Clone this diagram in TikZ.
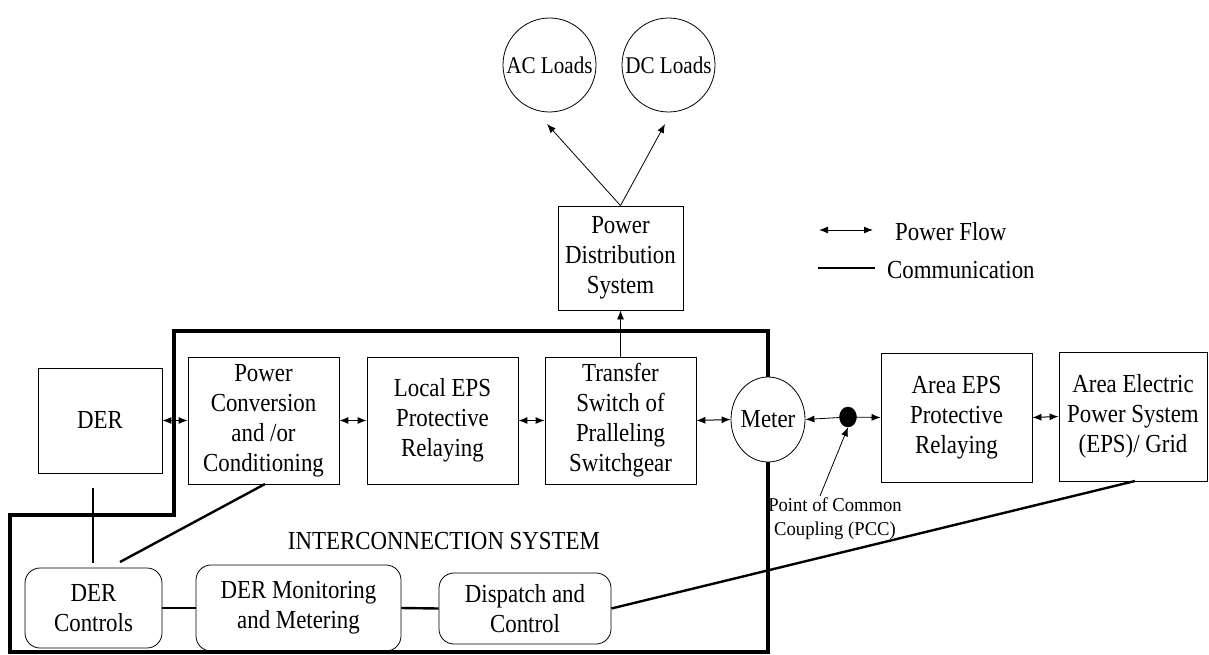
\documentclass[tikz,border=0pt]{standalone}
\usepackage{fontspec}
\setmainfont{Liberation Serif}[FakeStretch=0.88]
\newfontfamily\pccfont{Liberation Serif}[FakeStretch=0.95]
\usetikzlibrary{arrows.meta,shapes.geometric}
\begin{document}
\begin{tikzpicture}[x=1pt,y=-1pt,
  txt/.style={font=\fontsize{26}{30}\selectfont},
  box/.style={draw,line width=0.8pt,inner sep=0pt,align=center,txt},
  rbox/.style={box,rounded corners=15pt},
  load/.style={draw,line width=0.8pt,ellipse,inner sep=0pt,txt},
  pf/.style={{Latex[length=9pt,width=7pt]}-{Latex[length=9pt,width=7pt]},line width=1pt},
  one/.style={-{Latex[length=9pt,width=7pt]},line width=0.8pt},
  comm/.style={line width=2.4pt},
  border/.style={line width=4pt}]
\useasboundingbox (0,0) rectangle (1209,655);
% boxes
\node[box,minimum width=124pt,minimum height=105pt] (der) at (100,420.5) {DER};
\node[box,minimum width=151pt,minimum height=127pt] (pc) at (263.5,420.5) {Power\\Conversion\\and /or\\Conditioning};
\node[box,minimum width=151pt,minimum height=127pt] (leps) at (442.5,420.5) {Local EPS\\Protective\\Relaying};
\node[box,minimum width=151pt,minimum height=127pt] (ts) at (620.5,420.5) {Transfer\\Switch of\\Pralleling\\Switchgear};
\node[load,minimum width=74pt,minimum height=85pt] (meter) at (768,419.5) {\makebox[0pt]{Meter}};
\node[draw,fill=black,ellipse,minimum width=17pt,minimum height=20pt,inner sep=0pt] (pcc) at (848,417) {};
\node[box,minimum width=151pt,minimum height=129pt] (aeps) at (956.5,417.5) {Area EPS\\Protective\\Relaying};
\node[box,minimum width=148pt,minimum height=129pt] (grid) at (1133,416.5) {Area Electric\\Power System\\(EPS)/ Grid};
\node[box,minimum width=125pt,minimum height=104pt] (pds) at (620.5,258) {Power\\Distribution\\System};
\node[load,minimum width=93pt,minimum height=94pt,font=\fontsize{24}{28}\selectfont] (ac) at (549.5,65) {\makebox[0pt]{AC Loads}};
\node[load,minimum width=93pt,minimum height=94pt,font=\fontsize{24}{28}\selectfont] (dc) at (668.5,65) {\makebox[0pt]{DC Loads}};
\node[rbox,minimum width=137pt,minimum height=80pt] (derc) at (93.5,608) {DER\\Controls};
\node[rbox,minimum width=205pt,minimum height=86pt] (dmm) at (298.5,608) {DER Monitoring\\and Metering};
\node[rbox,minimum width=172pt,minimum height=71pt] (dc2) at (525,608.5) {Dispatch and\\Control};
% interconnection border
\draw[border] (meter.north) -- (768,331) -- (174,331) -- (174,515) -- (10,515) -- (10,652) -- (768,652) -- (meter.south);
\node[txt] (ics) at (444,541) {INTERCONNECTION SYSTEM};
% power flow
\draw[pf] (der.east) -- (pc.west);
\draw[pf] (pc.east) -- (leps.west);
\draw[pf] (leps.east) -- (ts.west);
\draw[pf] (ts.east) -- (meter.west);
\draw[one] (pcc) -- (meter.east);
\draw[one] (pcc) -- (aeps.west);
\draw[pf] (aeps.east) -- (grid.west);
\draw[one] (ts.north) -- (pds.south);
\coordinate (pdstop) at (pds.north);
\draw[one] (pdstop) -- (547,124);
\draw[one] (pdstop) -- (665,124);
% PCC label
\node[font=\pccfont\fontsize{19.6}{24}\selectfont,align=center] (pccl) at (835,519) {Point of Common\\Coupling (PCC)};
\coordinate (pccs) at (820,496);
\draw[one] (pccs) -- (pcc.south);
% communication
\coordinate (derb) at (93,488);
\coordinate (derct) at (93,563);
\draw[comm] (derb) -- (derct);
\coordinate (pcb) at (265,484);
\coordinate (dercr) at (120,562);
\draw[comm] (pcb) -- (dercr);
\draw[comm] (derc.east) -- (dmm.west);
\draw[comm] (dmm.east) -- (dc2.west);
\coordinate (gridb) at (1135,481);
\draw[comm] (dc2.east) -- (gridb);
% legend
\coordinate (l1a) at (819,230); \coordinate (l1b) at (873,230);
\draw[pf] (l1a) -- (l1b);
\node[anchor=west,txt,inner sep=0pt] (lt1) at (895,232) {Power Flow};
\coordinate (l2a) at (818,268); \coordinate (l2b) at (875,268);
\draw[comm] (l2a) -- (l2b);
\node[anchor=west,txt,inner sep=0pt] (lt2) at (887,270) {Communication};
\end{tikzpicture}
\end{document}
